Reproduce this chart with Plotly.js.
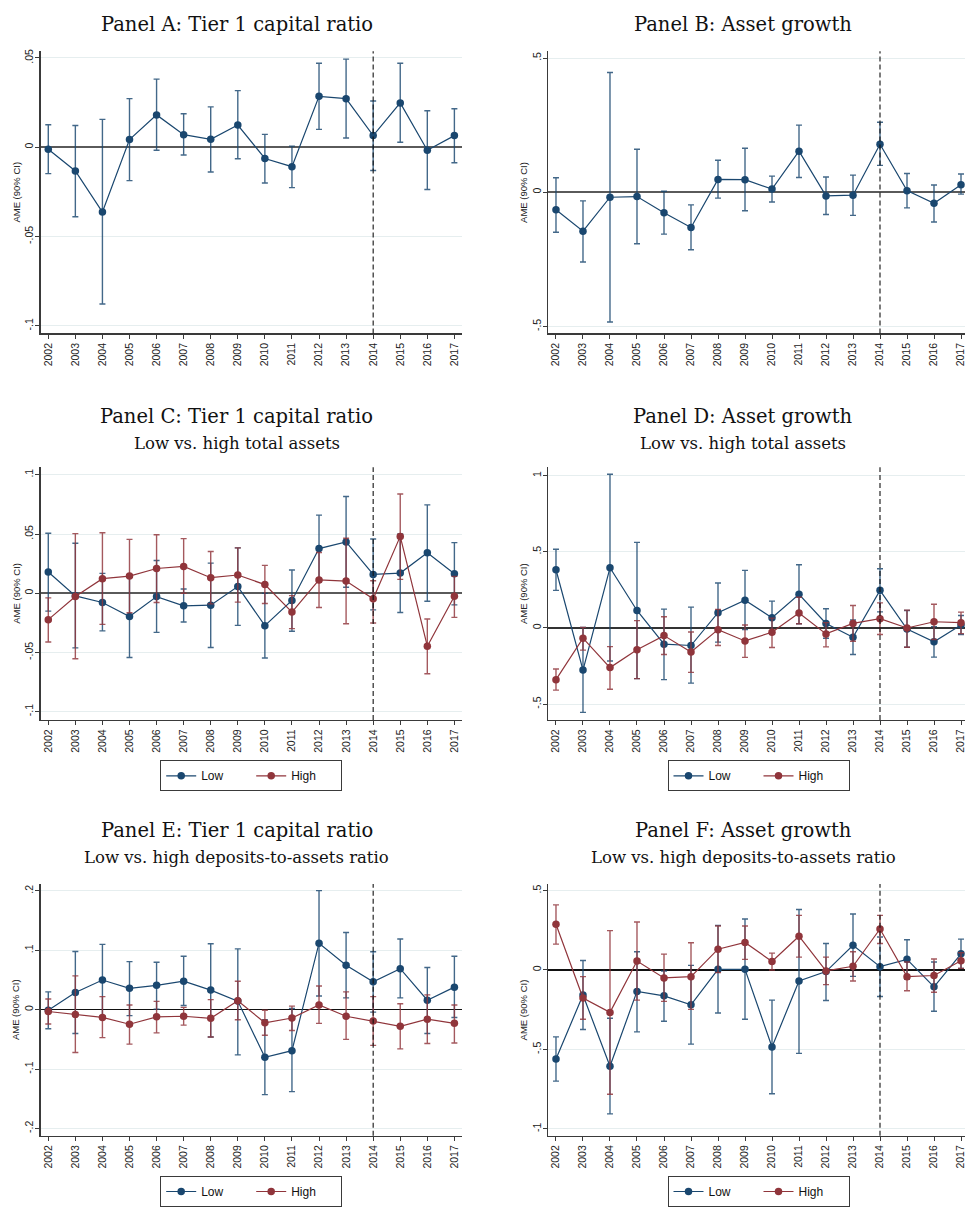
<!DOCTYPE html>
<html>
<head>
<meta charset="utf-8">
<script src="https://cdn.plot.ly/plotly-3.0.1.min.js"></script>
<style>html,body{margin:0;padding:0;background:#fff;}#chart{width:965px;height:1207px;}</style>
</head>
<body>
<div id="chart"></div>
<script>
// ---------- data ----------
const years = [2002,2003,2004,2005,2006,2007,2008,2009,2010,2011,2012,2013,2014,2015,2016,2017];
const yearLabels = years.map(String);

// Panel A: Tier 1 capital ratio
const aEst = [-0.0011,-0.0133,-0.0363,0.0043,0.0181,0.0070,0.0044,0.0124,-0.0063,-0.0109,0.0285,0.0272,0.0065,0.0248,-0.0017,0.0065];
const aLo  = [-0.0148,-0.0389,-0.0878,-0.0187,-0.0017,-0.0044,-0.0139,-0.0065,-0.0200,-0.0226,0.0100,0.0052,-0.0130,0.0028,-0.0237,-0.0087];
const aHi  = [0.0126,0.0122,0.0156,0.0272,0.0381,0.0187,0.0226,0.0317,0.0072,0.0006,0.0470,0.0493,0.0259,0.0470,0.0204,0.0215];

// Panel B: Asset growth
const bEst = [-0.065,-0.145,-0.0185,-0.016,-0.076,-0.131,0.048,0.047,0.012,0.153,-0.0135,-0.011,0.179,0.006,-0.041,0.028];
const bLo  = [-0.149,-0.260,-0.483,-0.192,-0.156,-0.214,-0.022,-0.069,-0.036,0.055,-0.083,-0.086,0.100,-0.058,-0.111,-0.007];
const bHi  = [0.054,-0.032,0.446,0.160,0.004,-0.047,0.119,0.164,0.060,0.250,0.057,0.064,0.261,0.070,0.027,0.068];

// Panel C: Tier 1 capital ratio, low vs. high total assets
const cLowEst  = [0.0179,-0.0022,-0.0078,-0.0196,-0.0028,-0.0106,-0.0101,0.0056,-0.0274,-0.0061,0.0377,0.0433,0.0159,0.0170,0.0341,0.0165];
const cLowLo   = [-0.0151,-0.0461,-0.0318,-0.0542,-0.0330,-0.0243,-0.0458,-0.0271,-0.0547,-0.0321,0.0095,0.0050,-0.0140,-0.0162,-0.0067,-0.0098];
const cLowHi   = [0.0506,0.0422,0.0168,0.0150,0.0277,0.0036,0.0254,0.0383,-0.0001,0.0196,0.0659,0.0816,0.0458,0.0500,0.0746,0.0427];
const cHighEst = [-0.0223,-0.0028,0.0123,0.0145,0.0209,0.0226,0.0131,0.0154,0.0073,-0.0159,0.0112,0.0103,-0.0047,0.0480,-0.0447,-0.0025];
const cHighLo  = [-0.0411,-0.0553,-0.0263,-0.0165,-0.0078,0.0000,-0.0090,-0.0075,-0.0087,-0.0299,-0.0120,-0.0257,-0.0251,0.0117,-0.0679,-0.0204];
const cHighHi  = [-0.0039,0.0503,0.0511,0.0455,0.0494,0.0461,0.0352,0.0383,0.0235,-0.0020,0.0344,0.0464,0.0106,0.0838,-0.0218,0.0142];

// Panel D: Asset growth, low vs. high total assets
const dLowEst  = [0.382,-0.276,0.395,0.115,-0.106,-0.115,0.100,0.182,0.067,0.221,0.030,-0.061,0.247,-0.0065,-0.091,0.020];
const dLowLo   = [0.247,-0.554,-0.217,-0.332,-0.339,-0.362,-0.093,-0.011,-0.040,0.028,-0.067,-0.174,0.106,-0.126,-0.191,-0.043];
const dLowHi   = [0.517,0.004,1.009,0.562,0.124,0.137,0.295,0.378,0.176,0.415,0.126,0.052,0.389,0.115,0.009,0.082];
const dHighEst = [-0.339,-0.067,-0.260,-0.143,-0.050,-0.158,-0.011,-0.085,-0.028,0.098,-0.039,0.030,0.061,0.000,0.041,0.035];
const dHighLo  = [-0.408,-0.145,-0.402,-0.332,-0.174,-0.291,-0.115,-0.193,-0.128,0.028,-0.124,-0.087,-0.043,-0.126,-0.076,-0.037];
const dHighHi  = [-0.269,0.004,-0.122,0.048,0.074,-0.026,0.122,0.020,0.065,0.202,0.035,0.148,0.165,0.117,0.156,0.104];

// Panel E: Tier 1 capital ratio, low vs. high deposits-to-assets ratio
const eLowEst  = [-0.001,0.029,0.050,0.036,0.041,0.048,0.033,0.0145,-0.080,-0.069,0.112,0.075,0.047,0.069,0.016,0.038];
const eLowLo   = [-0.032,-0.040,-0.010,-0.010,0.001,0.007,-0.046,-0.076,-0.143,-0.138,0.023,0.020,-0.004,0.020,-0.040,-0.013];
const eLowHi   = [0.030,0.098,0.110,0.081,0.080,0.090,0.111,0.1025,-0.017,0.002,0.2005,0.130,0.0975,0.119,0.071,0.090];
const eHighEst = [-0.003,-0.008,-0.013,-0.0245,-0.012,-0.011,-0.0145,0.015,-0.022,-0.014,0.008,-0.011,-0.019,-0.028,-0.016,-0.023];
const eHighLo  = [-0.024,-0.072,-0.047,-0.058,-0.039,-0.026,-0.046,-0.017,-0.043,-0.035,-0.023,-0.050,-0.060,-0.066,-0.057,-0.056];
const eHighHi  = [0.018,0.057,0.022,0.008,0.014,0.004,0.017,0.048,-0.001,0.006,0.040,0.030,0.022,0.010,0.025,0.008];

// Panel F: Asset growth, low vs. high deposits-to-assets ratio
const fLowEst  = [-0.560,-0.158,-0.606,-0.135,-0.163,-0.219,0.004,0.004,-0.485,-0.069,-0.010,0.156,0.021,0.067,-0.106,0.102];
const fLowLo   = [-0.700,-0.375,-0.906,-0.390,-0.323,-0.467,-0.271,-0.310,-0.779,-0.525,-0.192,-0.040,-0.167,-0.058,-0.260,0.010];
const fLowHi   = [-0.421,0.060,-0.304,0.115,-0.006,0.029,0.281,0.321,-0.190,0.381,0.167,0.352,0.208,0.190,0.050,0.194];
const fHighEst = [0.2875,-0.177,-0.267,0.056,-0.050,-0.042,0.131,0.173,0.054,0.2125,-0.006,0.023,0.258,-0.042,-0.035,0.058];
const fHighLo  = [0.1625,-0.310,-0.783,-0.190,-0.198,-0.248,-0.017,0.067,0.000,0.081,-0.092,-0.069,0.167,-0.131,-0.140,0.010];
const fHighHi  = [0.410,-0.042,0.248,0.302,0.100,0.171,0.277,0.277,0.106,0.344,0.081,0.115,0.344,0.050,0.069,0.108];

// y tick labels (Stata style)
const yTicksA = [-0.1,-0.05,0,0.05];   const yTextA = ['-.1','-.05','0','.05'];
const yTicksB = [-0.5,0,0.5];          const yTextB = ['-.5','0','.5'];
const yTicksC = [-0.1,-0.05,0,0.05,0.1]; const yTextC = ['-.1','-.05','0','.05','.1'];
const yTicksD = [-0.5,0,0.5,1];        const yTextD = ['-.5','0','.5','1'];
const yTicksE = [-0.2,-0.1,0,0.1,0.2]; const yTextE = ['-.2','-.1','0','.1','.2'];
const yTicksF = [-1,-0.5,0,0.5];       const yTextF = ['-1','-.5','0','.5'];

const panelTitles = ['Panel A: Tier 1 capital ratio','Panel B: Asset growth','Panel C: Tier 1 capital ratio','Panel D: Asset growth','Panel E: Tier 1 capital ratio','Panel F: Asset growth'];
const panelSubtitles = ['','','Low vs. high total assets','Low vs. high total assets','Low vs. high deposits-to-assets ratio','Low vs. high deposits-to-assets ratio'];
const seriesNames = ['Low','High'];
const yAxisTitle = 'AME (90% CI)';

// ---------- styling ----------
const W = 965, H = 1207;
const BLUE = '#1a476f', RED = '#90353b';
const BLUE_CI = 'rgba(26,71,111,0.82)', RED_CI = 'rgba(144,53,59,0.82)';
const SANS = 'Liberation Sans, Arial, sans-serif';
const SERIF = 'DejaVu Serif, serif';
const px = v => v / W;
const py = v => 1 - v / H;

function ciTrace(est, lo, hi, color, ciColor, name, xa, ya, legend, showlegend) {
  return {
    type: 'scatter', mode: 'lines+markers', x: years, y: est,
    xaxis: xa, yaxis: ya, name: name, legend: legend, showlegend: showlegend,
    line: {color: color, width: 1.2},
    marker: {color: color, size: 7.5},
    error_y: {type: 'data', symmetric: false,
      array: hi.map((h, i) => h - est[i]),
      arrayminus: lo.map((l, i) => est[i] - l),
      color: ciColor, thickness: 1.4, width: 3}
  };
}

const traces = [
  ciTrace(aEst, aLo, aHi, BLUE, BLUE_CI, 'Estimate', 'x', 'y', 'legend', false),
  ciTrace(bEst, bLo, bHi, BLUE, BLUE_CI, 'Estimate', 'x2', 'y2', 'legend', false),
  ciTrace(cLowEst, cLowLo, cLowHi, BLUE, BLUE_CI, seriesNames[0], 'x3', 'y3', 'legend', true),
  ciTrace(cHighEst, cHighLo, cHighHi, RED, RED_CI, seriesNames[1], 'x3', 'y3', 'legend', true),
  ciTrace(dLowEst, dLowLo, dLowHi, BLUE, BLUE_CI, seriesNames[0], 'x4', 'y4', 'legend2', true),
  ciTrace(dHighEst, dHighLo, dHighHi, RED, RED_CI, seriesNames[1], 'x4', 'y4', 'legend2', true),
  ciTrace(eLowEst, eLowLo, eLowHi, BLUE, BLUE_CI, seriesNames[0], 'x5', 'y5', 'legend3', true),
  ciTrace(eHighEst, eHighLo, eHighHi, RED, RED_CI, seriesNames[1], 'x5', 'y5', 'legend3', true),
  ciTrace(fLowEst, fLowLo, fLowHi, BLUE, BLUE_CI, seriesNames[0], 'x6', 'y6', 'legend4', true),
  ciTrace(fHighEst, fHighLo, fHighHi, RED, RED_CI, seriesNames[1], 'x6', 'y6', 'legend4', true)
];

// panel geometry (pixels)
const leftCol = {x0: 40.7, x1: 461.7, range: [2001.72, 2017.27]};
const rightCol = {x0: 548, x1: 965, range: [2001.704, 2017.148]};
const rows = [{y0: 51.7, y1: 336}, {y0: 470.7, y1: 725.3}, {y0: 890.7, y1: 1144.3}];
const yRanges = [[-0.1043, 0.0537], [-0.526, 0.525], [-0.1069, 0.1064], [-0.603, 1.055], [-0.2123, 0.2116], [-1.044, 0.541]];
const yTickSets = [[yTicksA, yTextA], [yTicksB, yTextB], [yTicksC, yTextC], [yTicksD, yTextD], [yTicksE, yTextE], [yTicksF, yTextF]];
const zeroStyle = [['#5a5a5a', 1.6], ['#5a5a5a', 1.6], ['#5a5a5a', 1.6], ['#333333', 1.3], ['#111111', 1.2], ['#111111', 1.2]];

const layout = {
  width: W, height: H,
  margin: {l: 0, r: 0, t: 0, b: 0},
  paper_bgcolor: '#ffffff', plot_bgcolor: '#ffffff',
  font: {family: SANS, size: 10, color: '#333'},
  shapes: [], annotations: []
};

for (let p = 0; p < 6; p++) {
  const col = (p % 2 === 0) ? leftCol : rightCol;
  const row = rows[Math.floor(p / 2)];
  const sfx = p === 0 ? '' : String(p + 1);
  layout['xaxis' + sfx] = {
    domain: [px(col.x0), px(col.x1)], range: col.range, anchor: 'y' + sfx,
    showgrid: false, zeroline: false, showline: true, linecolor: '#3a3a3a', linewidth: 1.3,
    ticks: 'outside', ticklen: 4, tickcolor: '#3a3a3a', tickwidth: 1,
    tickvals: years, ticktext: yearLabels, tickangle: -90, ticklabeloverflow: 'allow',
    tickfont: {family: SANS, size: 10.5, color: '#222'}, fixedrange: true
  };
  layout['yaxis' + sfx] = {
    domain: [py(row.y1), py(row.y0)], range: yRanges[p], anchor: 'x' + sfx,
    showgrid: true, gridcolor: '#e6eeef', gridwidth: 1,
    zeroline: true, zerolinecolor: zeroStyle[p][0], zerolinewidth: zeroStyle[p][1],
    showline: true, linecolor: '#3a3a3a', linewidth: 1.3,
    ticks: 'outside', ticklen: 4, tickcolor: '#3a3a3a', tickwidth: 1,
    tickvals: yTickSets[p][0], ticktext: yTickSets[p][1], tickangle: -90, ticklabeloverflow: 'allow',
    ticklabelstandoff: -2,
    tickfont: {family: SANS, size: 10.5, color: '#222'}, fixedrange: true
  };
  // dashed vertical line at 2014
  layout.shapes.push({type: 'line', xref: 'x' + sfx, yref: 'y' + sfx + ' domain',
    x0: 2014, x1: 2014, y0: 0, y1: 1, line: {color: '#111', width: 1.1, dash: '5px,3px'}});
  // y-axis title
  layout.annotations.push({xref: 'paper', yref: 'paper', x: px(col.x0 - 24.5), y: py((row.y0 + row.y1) / 2),
    text: yAxisTitle, showarrow: false, textangle: -90, xanchor: 'center', yanchor: 'middle',
    font: {family: SANS, size: 9.5, color: '#222'}});
  // titles
  const cx = (p % 2 === 0) ? 236.5 : 743;
  const titleY = [25, 420, 837][Math.floor(p / 2)];
  layout.annotations.push({xref: 'paper', yref: 'paper', x: px(cx), y: py(titleY),
    text: panelTitles[p], showarrow: false, xanchor: 'center', yanchor: 'middle',
    font: {family: SERIF, size: 19.5, color: '#111'}});
  if (panelSubtitles[p]) {
    layout.annotations.push({xref: 'paper', yref: 'paper', x: px(cx), y: py(titleY + 27),
      text: panelSubtitles[p], showarrow: false, xanchor: 'center', yanchor: 'middle',
      font: {family: SERIF, size: 16.5, color: '#111'}});
  }
}

function legendAt(cx, topY) {
  return {orientation: 'h', x: px(cx), xanchor: 'center', y: py(topY), yanchor: 'top',
    bgcolor: '#fff', bordercolor: '#3a3a3a', borderwidth: 1, entrywidth: 45, entrywidthmode: 'pixels',
    font: {family: SANS, size: 12, color: '#111'}, itemwidth: 30, traceorder: 'normal'};
}
layout.legend = legendAt(251.2, 766);
layout.legend2 = legendAt(758.5, 766);
layout.legend3 = legendAt(251.2, 1185);
layout.legend4 = legendAt(758.5, 1185);

Plotly.newPlot('chart', traces, layout, {staticPlot: true, displayModeBar: false});
</script>
</body>
</html>
